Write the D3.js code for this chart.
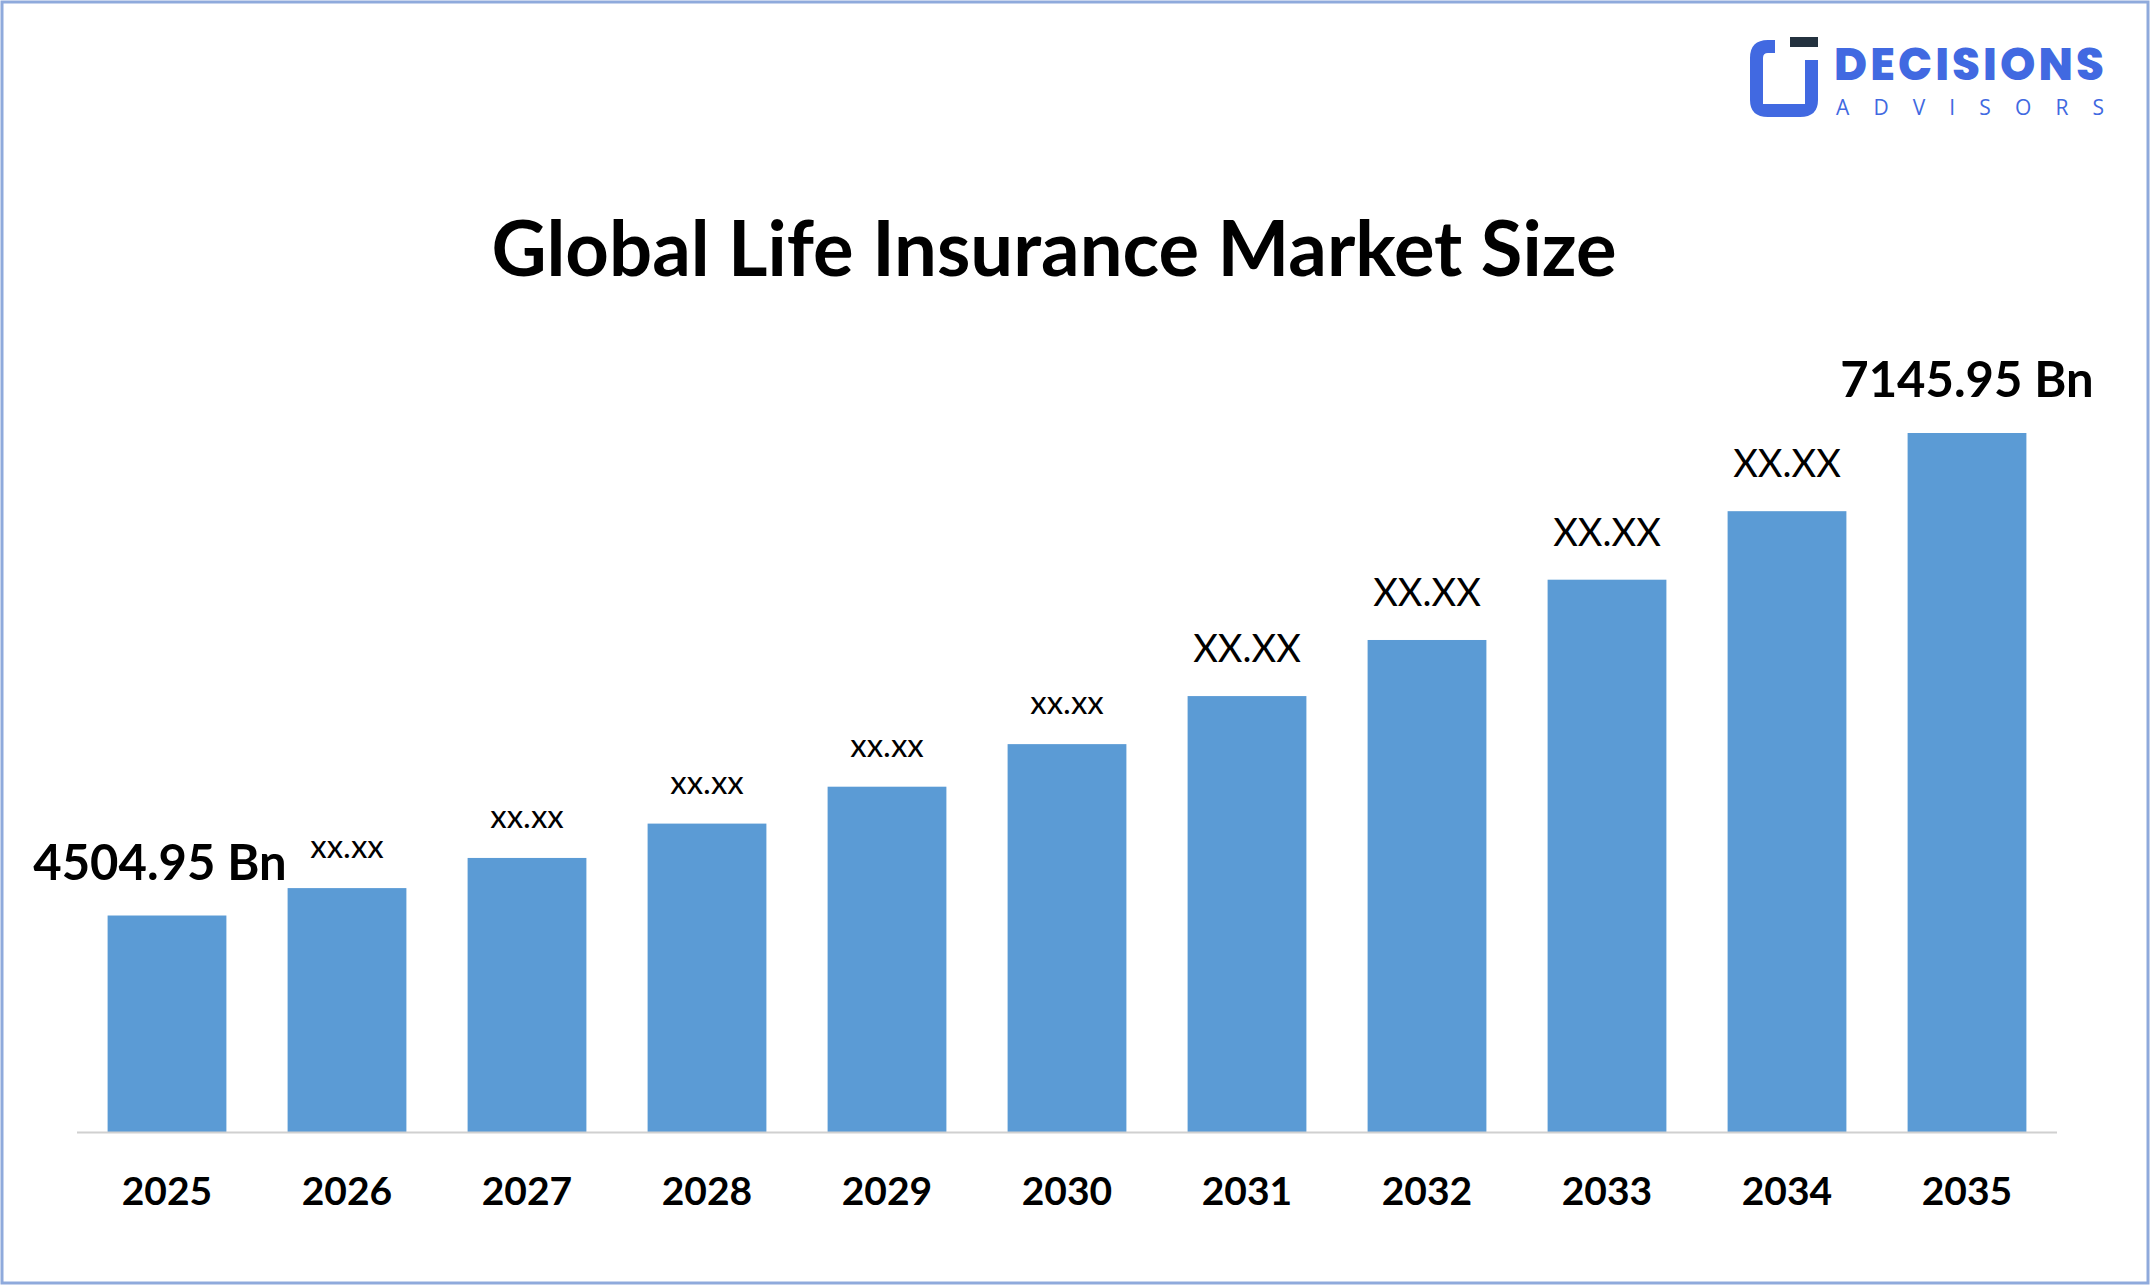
<!DOCTYPE html>
<html><head><meta charset="utf-8">
<script src="https://cdn.jsdelivr.net/npm/d3@7"></script>
<style>body{margin:0;background:#fff}svg{display:block}</style>
</head><body>
<svg id="chart" width="2150" height="1285"></svg>
<script>
var years = ['2025','2026','2027','2028','2029','2030','2031','2032','2033','2034','2035'];
var values = [4504.95, 4655, 4820, 5008, 5210, 5443, 5706, 6013, 6343, 6718, 7145.95];
var labels = ['4504.95 Bn','xx.xx','xx.xx','xx.xx','xx.xx','xx.xx','XX.XX','XX.XX','XX.XX','XX.XX','7145.95 Bn'];

var svg = d3.select('#chart');
var font = 'Lato, "Open Sans", sans-serif';

svg.append('rect').attr('x',2).attr('y',2).attr('width',2146).attr('height',1281)
    .attr('fill','#fff').attr('stroke','#8faadc').attr('stroke-width',3);

// logo
var logo = svg.append('g').attr('fill','#4169e1');
logo.append('path').attr('d','M1775,40 L1768,40 Q1750,40 1750,58 L1750,100 Q1750,117 1768,117 L1800,117 Q1818,117 1818,100 L1818,60 L1805,60 L1805,104 L1763,104 L1763,58 Q1763,53 1768,53 L1775,53 Z');
logo.append('rect').attr('x',1790).attr('y',37).attr('width',28).attr('height',10).attr('fill','#24323f');
logo.append('text').attr('x',1834).attr('y',80).attr('font-family','Poppins, "Open Sans", sans-serif')
    .attr('font-weight',800).attr('font-size',45).attr('textLength',270).text('DECISIONS');
logo.append('text').attr('x',1836).attr('y',115).attr('font-family','"Open Sans", sans-serif')
    .attr('font-size',21).attr('textLength',268).text('ADVISORS');

svg.append('text').attr('x',1054).attr('y',276).attr('text-anchor','middle')
    .attr('font-family',font).attr('font-weight',700).attr('font-size',76).attr('fill','#000')
    .text('Global Life Insurance Market Size');

var x = d3.scaleBand().domain(years).range([77,2057]).paddingInner(0.34).paddingOuter(0.17);
var y = d3.scaleLinear().domain([3320, 7145.95]).range([1132, 433]);

svg.selectAll('.bar').data(years).enter().append('rect')
    .attr('x', d => x(d)).attr('width', x.bandwidth())
    .attr('y', (d,i) => y(values[i])).attr('height', (d,i) => 1132 - y(values[i]))
    .attr('fill','#5b9bd5');

svg.append('line').attr('x1',77).attr('x2',2057).attr('y1',1132.5).attr('y2',1132.5)
    .attr('stroke','#d0d0d0').attr('stroke-width',2);

svg.selectAll('.tick').data(years).enter().append('text')
    .attr('x', d => x(d) + x.bandwidth()/2).attr('y',1205).attr('text-anchor','middle')
    .attr('font-family',font).attr('font-weight',700).attr('font-size',39).text(d => d);

svg.selectAll('.lab').data(years).enter().append('text')
    .attr('x', (d,i) => i == 0 ? 160 : x(d) + x.bandwidth()/2)
    .attr('y', (d,i) => y(values[i]) - (i == 0 || i == 10 ? 36 : (i > 5 ? 34 : 30)))
    .attr('text-anchor','middle').attr('font-family',font)
    .attr('font-weight', (d,i) => i == 0 || i == 10 ? 700 : 400)
    .attr('font-size', (d,i) => i == 0 || i == 10 ? 49 : (i > 5 ? 38 : 33))
    .text((d,i) => labels[i]);
</script>
</body></html>
